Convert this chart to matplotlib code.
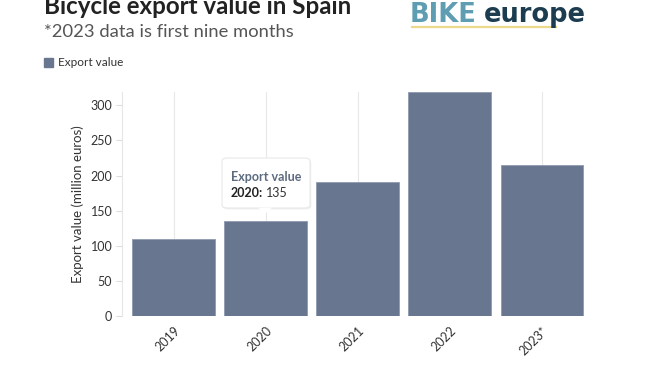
import matplotlib.pyplot as plt
from matplotlib.patches import FancyBboxPatch, Polygon

years = ['2019', '2020', '2021', '2022', '2023*']
export_value = [110, 135, 191, 319, 215]
yticks = [0, 50, 100, 150, 200, 250, 300]

bar_color = '#68778f'
plt.rcParams['font.family'] = ['Lato', 'DejaVu Sans']

fig = plt.figure(figsize=(6.59, 3.71), dpi=100)
ax = fig.add_axes([122 / 659, 1 - 316 / 371, (588 - 122) / 659, (316 - 92) / 371])

x = range(len(years))
ax.bar(x, export_value, width=0.9, color=bar_color, edgecolor='#8e9ab0', linewidth=0.6, zorder=2)
ax.set_xlim(-0.56, len(years) - 0.5)
ax.set_ylim(0, 319)
ax.set_yticks(yticks)
ax.set_xticks(list(x))
ax.set_xticklabels(years, rotation=45, ha='right', rotation_mode='anchor', fontsize=9, color='#333333')
ax.tick_params(axis='x', length=0, pad=6)
ax.tick_params(axis='y', length=4, color='#dddddd', labelsize=9, labelcolor='#333333', pad=3)
ax.grid(axis='x', color='#e8e8e8', linewidth=0.8, zorder=0)
for s in ['top', 'right', 'bottom']:
    ax.spines[s].set_visible(False)
ax.spines['left'].set_color('#e6e6e6')
ax.set_ylabel('Export value (million euros)', fontsize=9.5, color='#333333', labelpad=5)

# title, subtitle, legend
fig.text(44 / 659, 1 - 7 / 371, 'Bicycle export value in Spain', fontsize=17.4, fontweight='bold',
         color='#222222', va='center')
fig.text(44 / 659, 1 - 32 / 371, '*2023 data is first nine months', fontsize=13.2,
         color='#555555', va='center')
fig.patches.append(plt.Rectangle((44 / 659, 1 - 67 / 371), 9 / 659, 9 / 371, color=bar_color,
                                 transform=fig.transFigure, figure=fig))
fig.text(58 / 659, 1 - 62.5 / 371, 'Export value', fontsize=8.5, color='#333333', va='center')

# logo
fig.text(410 / 659, 1 - 22 / 371, 'BIKE', fontsize=18.5, fontweight='bold', color='#5f9db2',
         va='baseline', family='DejaVu Sans')
fig.text(484 / 659, 1 - 22 / 371, 'europe', fontsize=18.5, fontweight='bold', color='#1c3d50',
         va='baseline', family='DejaVu Sans')
fig.add_artist(plt.Line2D([412 / 659, 556 / 659], [1 - 27 / 371, 1 - 27 / 371], color='#ecd98a',
                          linewidth=1.6, transform=fig.transFigure, zorder=0))

# tooltip over 2020
tx0, ty0, tw, th = 222 / 659, 1 - 208 / 371, 88 / 659, 50 / 371
shadow = FancyBboxPatch((tx0 + 0.002, ty0 - 0.004), tw, th, boxstyle='round,pad=0,rounding_size=0.008',
                        transform=fig.transFigure, facecolor='#000000', alpha=0.06,
                        edgecolor='none', zorder=4)
fig.patches.append(shadow)
box = FancyBboxPatch((tx0, ty0), tw, th, boxstyle='round,pad=0,rounding_size=0.008',
                     transform=fig.transFigure, facecolor='white', edgecolor='#e8e8e8',
                     linewidth=0.8, zorder=5)
fig.patches.append(box)
tip = Polygon([(258 / 659, ty0 + 0.001), (272 / 659, ty0 + 0.001), (265 / 659, 1 - 214 / 371)],
              closed=True, transform=fig.transFigure, facecolor='white', edgecolor='none', zorder=6)
fig.patches.append(tip)
fig.text(231 / 659, 1 - 177 / 371, 'Export value', fontsize=9, fontweight='bold', color='#5d6b80',
         va='center', zorder=7)
fig.text(231 / 659, 1 - 193 / 371, '2020:', fontsize=9, fontweight='bold', color='#222222',
         va='center', zorder=7)
fig.text(266 / 659, 1 - 193 / 371, '135', fontsize=9, color='#333333', va='center', zorder=7)

fig.savefig('out.png', dpi=100, facecolor='white')
